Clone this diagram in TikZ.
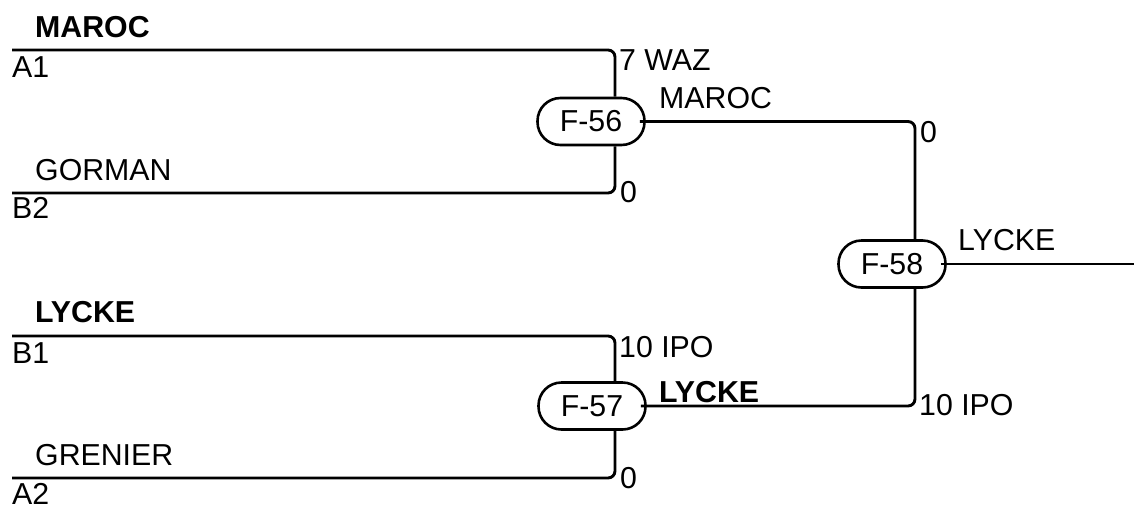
\documentclass[tikz,border=0pt]{standalone}
\usepackage{fontspec}
\setmainfont{Liberation Sans}
\begin{document}
\begin{tikzpicture}[x=1pt,y=-1pt,
  wire/.style={line width=2.9pt,rounded corners=7pt},
  match/.style={draw,line width=2.6pt,rounded corners=23pt,minimum width=107pt,minimum height=47pt,inner sep=0pt,font=\fontsize{30.3}{35}\selectfont},
  lbl/.style={anchor=base west,inner sep=0pt,font=\fontsize{30.3}{35}\selectfont},
  blbl/.style={lbl,font=\fontsize{30.3}{35}\selectfont\bfseries}]
\useasboundingbox (0,0) rectangle (1134,504);
% match nodes
\node[match] (n56) at (591,121.5) {F-56};
\node[match] (n57) at (592,406) {F-57};
\node[match] (n58) at (892,264) {F-58};
% coordinates
\coordinate (a1) at (12,50);
\coordinate (b2) at (12,193);
\coordinate (b1) at (12,336);
\coordinate (a2) at (12,478);
\coordinate (v56) at (615,0);
\coordinate (v57) at (615,0);
\coordinate (v58) at (915,0);
\coordinate (out) at (1134,264);
% top bracket
\draw[wire] (a1) -- (a1 -| v56) -- (v56 |- n56.north);
\draw[wire] (b2) -- (b2 -| v56) -- (v56 |- n56.south);
% bottom bracket
\draw[wire] (b1) -- (b1 -| v57) -- (v57 |- n57.north);
\draw[wire] (a2) -- (a2 -| v57) -- (v57 |- n57.south);
% to final
\draw[wire] ([xshift=-6pt]n56.east) -- (n56.east -| v58) -- (v58 |- n58.north);
\draw[wire] ([xshift=-6pt]n57.east) -- (n57.east -| v58) -- (v58 |- n58.south);
\draw[wire] ([xshift=-6pt]n58.east) -- (out);
% labels left
\node[blbl] (t1) at (35,37) {MAROC};
\node[lbl] (t2) at (12,77) {A1};
\node[lbl] (t3) at (35,180) {GORMAN};
\node[lbl] (t4) at (12,218) {B2};
\node[blbl] (t5) at (35,322) {LYCKE};
\node[lbl] (t6) at (12,363) {B1};
\node[lbl] (t7) at (35,465) {GRENIER};
\node[lbl] (t8) at (12,504) {A2};
% labels right
\node[lbl] (s1) at (619,70) {7 WAZ};
\node[lbl] (s2) at (659,108) {MAROC};
\node[lbl] (s3) at (620,202) {0};
\node[lbl] (s4) at (619,357) {10 IPO};
\node[blbl] (s5) at (659,402) {LYCKE};
\node[lbl] (s6) at (620,488) {0};
\node[lbl] (s7) at (920,142) {0};
\node[lbl] (s8) at (958,250) {LYCKE};
\node[lbl] (s9) at (919,415) {10 IPO};
\end{tikzpicture}
\end{document}
